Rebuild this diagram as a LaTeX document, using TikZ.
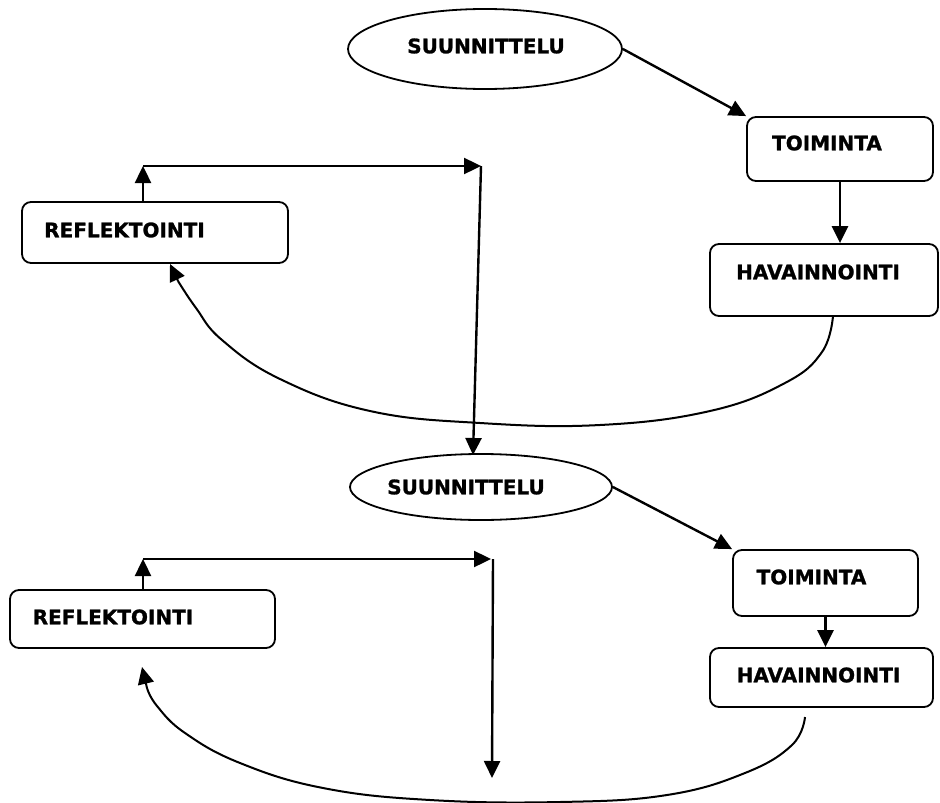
\documentclass[tikz,border=0pt]{standalone}
\usepackage{fontspec}
\setmainfont{DejaVu Sans}[BoldFeatures={FakeBold=1.2}]
\usetikzlibrary{arrows.meta,shapes.geometric}
\begin{document}
\begin{tikzpicture}[x=1pt,y=-1pt,
  box/.style={draw,line width=1.8pt,rounded corners=9pt,inner sep=0pt},
  oval/.style={draw,ellipse,line width=1.8pt,inner sep=0pt},
  txt/.style={font=\fontsize{20}{21}\selectfont\bfseries,inner sep=0pt},
  conn/.style={line width=2.4pt,-{Triangle[length=17pt,width=16pt]}},
  wig/.style={line width=2pt,line join=round},
  tip/.style={-{Triangle[length=17pt,width=16pt]}}]
\useasboundingbox (0,0) rectangle (940,803);
% upper cycle
\node[oval,minimum width=274pt,minimum height=80pt] (ell1) at (485,49) {};
\node[txt] (t-ell1) at (486,46) {SUUNNITTELU};
\node[box,minimum width=186pt,minimum height=64pt] (toi1) at (840,149) {};
\node[txt] (t-toi1) at (827,143) {TOIMINTA};
\node[box,minimum width=228pt,minimum height=72pt] (hav1) at (824,280) {};
\node[txt] (t-hav1) at (818,272) {HAVAINNOINTI};
\node[box,minimum width=266pt,minimum height=61pt] (ref1) at (155,232.5) {};
\node[txt] (t-ref1) at (124.5,230) {REFLEKTOINTI};
% lower cycle
\node[oval,minimum width=262pt,minimum height=66pt] (ell2) at (481,487) {};
\node[txt] (t-ell2) at (466,487) {SUUNNITTELU};
\node[box,minimum width=185pt,minimum height=66pt] (toi2) at (825.5,583) {};
\node[txt] (t-toi2) at (811.5,577) {TOIMINTA};
\node[box,minimum width=223pt,minimum height=59pt] (hav2) at (821.5,677.5) {};
\node[txt] (t-hav2) at (818.5,675) {HAVAINNOINTI};
\node[box,minimum width=265pt,minimum height=58pt] (ref2) at (142.5,619) {};
\node[txt] (t-ref2) at (113,617) {REFLEKTOINTI};

% coordinates
\coordinate (c1) at (143,166);
\coordinate (c2) at (481,166);
\coordinate (c3) at (473,455);
\coordinate (r1) at (170,264);
\coordinate (c4) at (143,559);
\coordinate (c5) at (491,559);
\coordinate (c5b) at (493,559);
\coordinate (c6) at (492,778);
\coordinate (r2) at (142,667);

% upper connectors
\draw[conn] (ell1.east) -- (toi1.north west);
\draw[conn] (toi1.south) -- (toi1.south |- hav1.north);
\draw[conn] (ref1.north -| c1) -- (c1);
\draw[conn] (c1) -- (c2);
\draw[conn] (c2) -- (c3);
\draw[wig] plot[smooth,tension=0.7] coordinates {(833,316) (822,352) (785,383) (710,411) (600,425) (480,423) (370,411) (280,379) (222,340) (196,308) (178,281)};
\draw[line width=2pt,tip] (178,281) -- (r1);

% lower connectors
\draw[conn] (ell2.east) -- (toi2.north west);
\draw[conn] (toi2.south) -- (toi2.south |- hav2.north);
\draw[conn] (ref2.north -| c4) -- (c4);
\draw[conn] (c4) -- (c5);
\draw[conn] (c5b) -- (c6);
\draw[wig] plot[smooth,tension=0.7] coordinates {(805,717) (792,745) (745,773) (667,795) (560,802) (430,800) (323,788) (240,763) (185,733) (157,706) (147,688)};
\draw[line width=2pt,tip] (147,688) -- (r2);
\end{tikzpicture}
\end{document}
